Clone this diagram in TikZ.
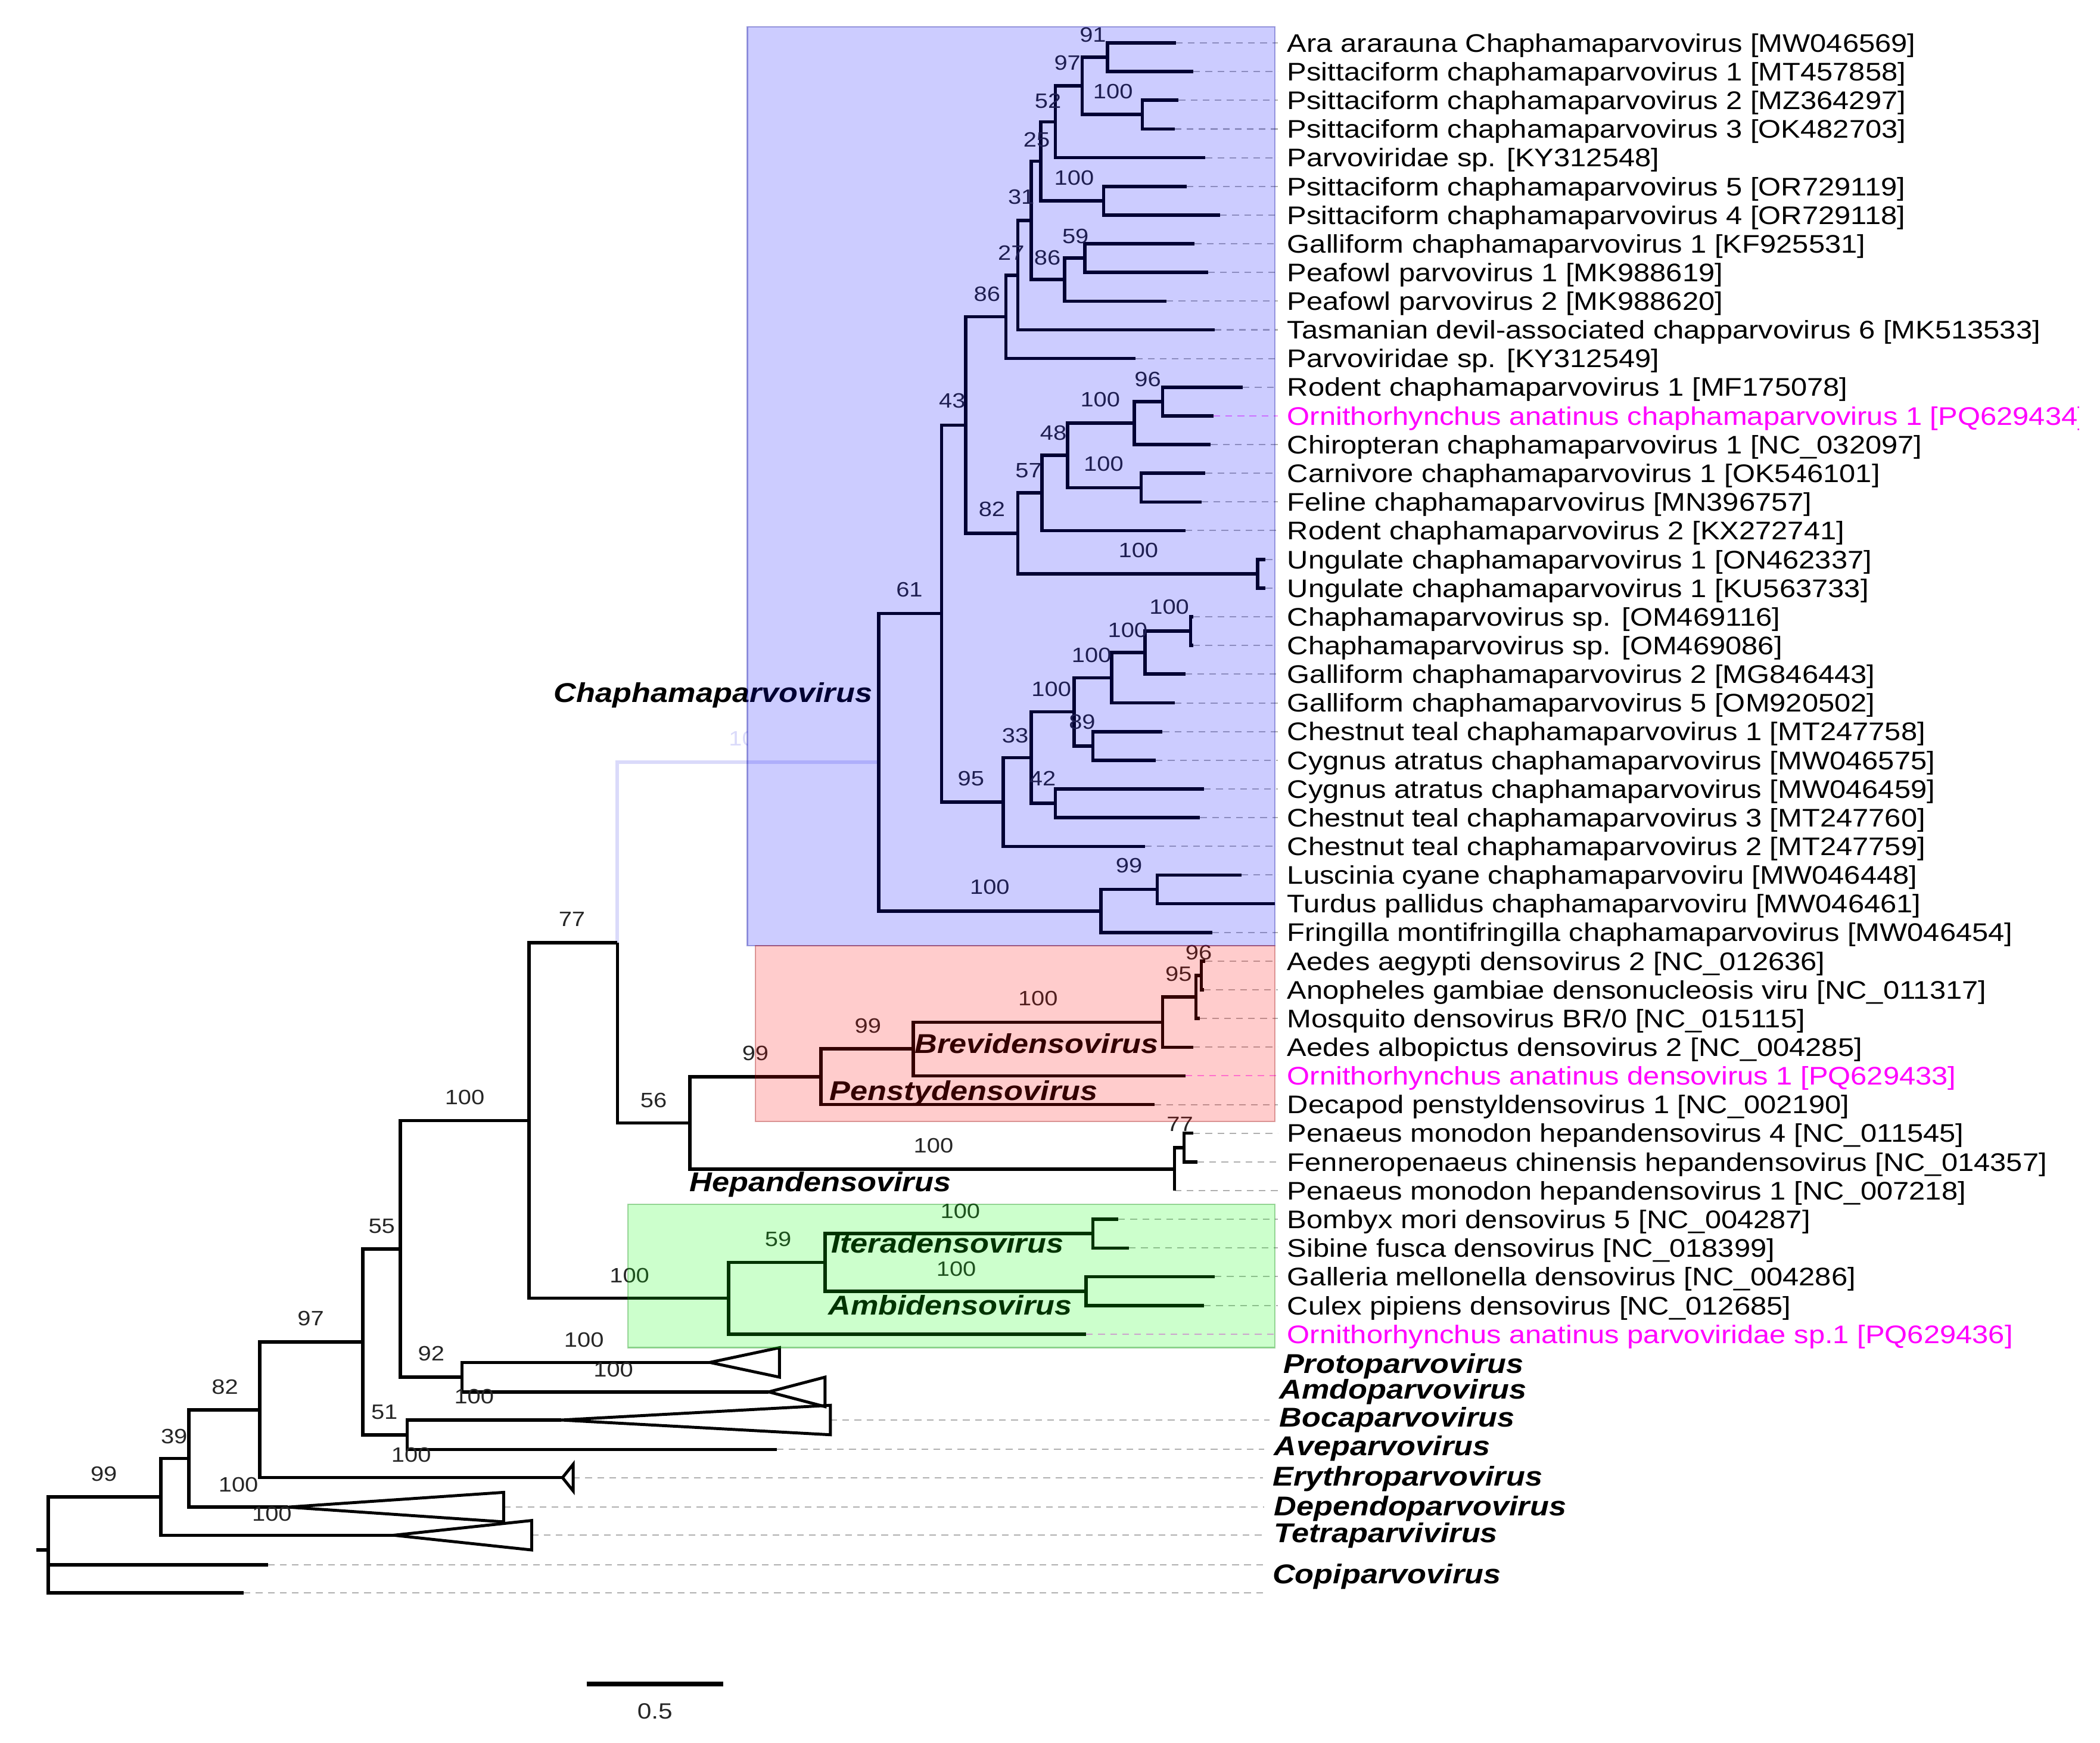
\documentclass[tikz,border=0pt]{standalone}
\usepackage{fontspec}
\setmainfont{Liberation Sans}[FakeStretch=1.145]
\definecolor{mag}{RGB}{255,0,255}
\definecolor{faintblue}{RGB}{218,218,250}
\definecolor{dashgray}{RGB}{175,175,175}
\definecolor{dashmag}{RGB}{255,140,255}
\tikzset{
  br/.style={line width=2.5pt, draw=black},
  tri/.style={line width=2.2pt, draw=black},
  tiplab/.style={font=\fontsize{19}{19}\selectfont, inner sep=0pt, text height=13.6pt, text depth=0pt, anchor=west},
  bs/.style={font=\fontsize{15.5}{15.5}\selectfont, inner sep=0pt, text height=11.1pt, text depth=0pt, text=black!85},
  genus/.style={font=\fontsize{20.3}{20.3}\selectfont\bfseries\itshape, inner sep=0pt, text height=14.6pt, text depth=0pt},
  dsh/.style={draw=dashgray, line width=0.9pt, dash pattern=on 5pt off 4pt, shorten >=7pt},
  dshm/.style={draw=dashmag, line width=0.9pt, dash pattern=on 5pt off 4pt, shorten >=7pt},
  cladebox/.style={fill opacity=0.2, draw opacity=0.35, line width=1pt},
}
\newcommand{\mytip}[4]{\coordinate (t#1) at (#2,#3); \node[tiplab] (L#1) at (961,#3) {#4};}
\newcommand{\mytipm}[4]{\coordinate (t#1) at (#2,#3); \node[tiplab,text=mag] (L#1) at (961,#3) {#4};}
\begin{document}
\begin{tikzpicture}[x=1pt,y=-1pt]
\useasboundingbox (0,0) rectangle (1568,1301);
\begin{scope}
\clip (0,0) rectangle (1552,1301);

% ---------------- tips and labels ----------------
\mytip{1}{878}{32.0}{Ara ararauna Chaphamaparvovirus [MW046569]}
\mytip{2}{891}{53.4}{Psittaciform chaphamaparvovirus 1 [MT457858]}
\mytip{3}{880}{74.8}{Psittaciform chaphamaparvovirus 2 [MZ364297]}
\mytip{4}{877}{96.3}{Psittaciform chaphamaparvovirus 3 [OK482703]}
\mytip{5}{900}{117.7}{Parvoviridae sp. [KY312548]}
\mytip{6}{886}{139.1}{Psittaciform chaphamaparvovirus 5 [OR729119]}
\mytip{7}{911}{160.5}{Psittaciform chaphamaparvovirus 4 [OR729118]}
\mytip{8}{892}{181.9}{Galliform chaphamaparvovirus 1 [KF925531]}
\mytip{9}{902}{203.4}{Peafowl parvovirus 1 [MK988619]}
\mytip{10}{871}{224.8}{Peafowl parvovirus 2 [MK988620]}
\mytip{11}{907}{246.2}{Tasmanian devil-associated chapparvovirus 6 [MK513533]}
\mytip{12}{848}{267.6}{Parvoviridae sp. [KY312549]}
\mytip{13}{928}{289.0}{Rodent chaphamaparvovirus 1 [MF175078]}
\mytipm{14}{906}{310.5}{Ornithorhynchus anatinus chaphamaparvovirus 1 [PQ629434]}
\mytip{15}{904}{331.9}{Chiropteran chaphamaparvovirus 1 [NC\_032097]}
\mytip{16}{900}{353.3}{Carnivore chaphamaparvovirus 1 [OK546101]}
\mytip{17}{897}{374.7}{Feline chaphamaparvovirus [MN396757]}
\mytip{18}{885}{396.1}{Rodent chaphamaparvovirus 2 [KX272741]}
\mytip{19}{945}{417.6}{Ungulate chaphamaparvovirus 1 [ON462337]}
\mytip{20}{945}{439.0}{Ungulate chaphamaparvovirus 1 [KU563733]}
\mytip{21}{891}{460.4}{Chaphamaparvovirus sp. [OM469116]}
\mytip{22}{891}{481.8}{Chaphamaparvovirus sp. [OM469086]}
\mytip{23}{885}{503.2}{Galliform chaphamaparvovirus 2 [MG846443]}
\mytip{24}{877}{524.7}{Galliform chaphamaparvovirus 5 [OM920502]}
\mytip{25}{868}{546.1}{Chestnut teal chaphamaparvovirus 1 [MT247758]}
\mytip{26}{863}{567.5}{Cygnus atratus chaphamaparvovirus [MW046575]}
\mytip{27}{899}{588.9}{Cygnus atratus chaphamaparvovirus [MW046459]}
\mytip{28}{896}{610.3}{Chestnut teal chaphamaparvovirus 3 [MT247760]}
\mytip{29}{855}{631.8}{Chestnut teal chaphamaparvovirus 2 [MT247759]}
\mytip{30}{927}{653.2}{Luscinia cyane chaphamaparvoviru [MW046448]}
\mytip{31}{952}{674.6}{Turdus pallidus chaphamaparvoviru [MW046461]}
\mytip{32}{905}{696.0}{Fringilla montifringilla chaphamaparvovirus [MW046454]}
\mytip{33}{900}{717.4}{Aedes aegypti densovirus 2 [NC\_012636]}
\mytip{34}{899}{738.8}{Anopheles gambiae densonucleosis viru [NC\_011317]}
\mytip{35}{896}{760.3}{Mosquito densovirus BR/0 [NC\_015115]}
\mytip{36}{891}{781.7}{Aedes albopictus densovirus 2 [NC\_004285]}
\mytipm{37}{885}{803.1}{Ornithorhynchus anatinus densovirus 1 [PQ629433]}
\mytip{38}{862}{824.5}{Decapod penstyldensovirus 1 [NC\_002190]}
\mytip{39}{891}{845.9}{Penaeus monodon hepandensovirus 4 [NC\_011545]}
\mytip{40}{894}{867.4}{Fenneropenaeus chinensis hepandensovirus [NC\_014357]}
\mytip{41}{877}{888.8}{Penaeus monodon hepandensovirus 1 [NC\_007218]}
\mytip{42}{835}{910.2}{Bombyx mori densovirus 5 [NC\_004287]}
\mytip{43}{843}{931.6}{Sibine fusca densovirus [NC\_018399]}
\mytip{44}{907}{953.0}{Galleria mellonella densovirus [NC\_004286]}
\mytip{45}{899}{974.5}{Culex pipiens densovirus [NC\_012685]}
\mytipm{46}{811}{995.9}{Ornithorhynchus anatinus parvoviridae sp.1 [PQ629436]}

% genus labels on the right
\node[genus,anchor=west] (G1) at (958,1018) {Protoparvovirus};
\node[genus,anchor=west] (G2) at (955,1037) {Amdoparvovirus};
\node[genus,anchor=west] (G3) at (955,1058) {Bocaparvovirus};
\node[genus,anchor=west] (G4) at (951,1079) {Aveparvovirus};
\node[genus,anchor=west] (G5) at (950,1102) {Erythroparvovirus};
\node[genus,anchor=west] (G6) at (951,1124) {Dependoparvovirus};
\node[genus,anchor=west] (G7) at (951,1144) {Tetraparvivirus};
\node[genus,anchor=west] (G8) at (950,1175) {Copiparvovirus};

% ---------------- internal nodes ----------------
\coordinate (n91) at (827,42.7);
\coordinate (n100a) at (853,85.5);
\coordinate (n97) at (808,64.1);
\coordinate (n52) at (788,90.9);
\coordinate (n100b) at (824,149.8);
\coordinate (n25) at (777,120.4);
\coordinate (n59) at (810,192.6);
\coordinate (n86b) at (795,208.7);
\coordinate (n31) at (770,164.5);
\coordinate (n27) at (760,205.4);
\coordinate (n86) at (751,236.5);
\coordinate (n96) at (868,299.7);
\coordinate (n100c) at (847,315.8);
\coordinate (n100d) at (852,364.0);
\coordinate (n48) at (797,339.9);
\coordinate (n57) at (778,368.0);
\coordinate (n100e) at (939,428.3);
\coordinate (n82) at (760,398.2);
\coordinate (n43) at (721,317.4);
\coordinate (n100i) at (889,471.1);
\coordinate (n100h) at (855,487.2);
\coordinate (n100g) at (830,506.0);
\coordinate (n89) at (816,556.8);
\coordinate (n100f) at (802,531.4);
\coordinate (n42) at (788,599.6);
\coordinate (n33) at (770,565.5);
\coordinate (n95) at (749,598.7);
\coordinate (n61) at (703,458.0);
\coordinate (n99c) at (864,663.9);
\coordinate (n100j) at (822,680.0);
\coordinate (nCh) at (656,569.0);
\coordinate (n96d) at (897,728.1);
\coordinate (n95d) at (893,744.2);
\coordinate (n100br) at (868,763.0);
\coordinate (n99b) at (682,783.0);
\coordinate (n99a) at (613,803.8);
\coordinate (n77h) at (884,856.6);
\coordinate (n100hp) at (877,872.7);
\coordinate (n56) at (515,838.3);
\coordinate (nX) at (461,703.6);
\coordinate (n100it) at (816,920.9);
\coordinate (n100am) at (811,963.8);
\coordinate (n59g) at (616,942.3);
\coordinate (n100gr) at (544,969.1);
\coordinate (nB) at (395,836.4);
\coordinate (aProto) at (530,1017);
\coordinate (aAmdo) at (574,1039);
\coordinate (n92) at (345,1028);
\coordinate (nA) at (299,932.2);
\coordinate (aBoca) at (419,1060);
\coordinate (eAve) at (580,1082);
\coordinate (n100ba) at (304,1071);
\coordinate (n55) at (271,1001.6);
\coordinate (aEry) at (420,1103);
\coordinate (n97b) at (194,1052.3);
\coordinate (aDep) at (215,1125);
\coordinate (n82b) at (141,1088.7);
\coordinate (aTet) at (294,1146);
\coordinate (n39) at (120,1117.3);
\coordinate (eCop1) at (200,1168);
\coordinate (eCop2) at (182,1189);
\coordinate (root) at (36,1157);
\coordinate (rstub) at (27,1157);
\coordinate (bBoca) at (620,1060);
\coordinate (bEry) at (428,1103);
\coordinate (bDep) at (376,1125);
\coordinate (bTet) at (397,1146);

% ---------------- faint stem of Chaphamaparvovirus ----------------
\begin{scope}
\clip (400,530) rectangle (558,575);
\node[bs,text=faintblue] (bF) at (559,551) {100};
\end{scope}
\draw[line width=2.6pt, draw=faintblue] (nX) |- (nCh);

% ---------------- dashed leader lines ----------------
\foreach \i in {1,2,3,4,5,6,7,8,9,10,11,12,13,15,16,17,18,19,20,21,22,23,24,25,26,27,28,29,30,32,33,34,35,36,38,39,40,41,42,43,44,45}
  \draw[dsh] (t\i) -- (t\i -| L\i.west);
\foreach \i in {14,37,46}
  \draw[dshm] (t\i) -- (t\i -| L\i.west);
\draw[dsh] (bBoca) -- (bBoca -| G3.west);
\draw[dsh] (eAve) -- (eAve -| G4.west);
\draw[dsh] (bEry) -- (bEry -| G5.west);
\draw[dsh] (bDep) -- (bDep -| G6.west);
\draw[dsh] (bTet) -- (bTet -| G7.west);
\draw[dsh] (eCop1) -- (eCop1 -| G8.west);
\draw[dsh] (eCop2) -- (eCop2 -| G8.west);

% ---------------- branches ----------------
\draw[br] (n91) |- (t1) (n91) |- (t2);
\draw[br] (n100a) |- (t3) (n100a) |- (t4);
\draw[br] (n97) |- (n91) (n97) |- (n100a);
\draw[br] (n52) |- (n97) (n52) |- (t5);
\draw[br] (n100b) |- (t6) (n100b) |- (t7);
\draw[br] (n25) |- (n52) (n25) |- (n100b);
\draw[br] (n59) |- (t8) (n59) |- (t9);
\draw[br] (n86b) |- (n59) (n86b) |- (t10);
\draw[br] (n31) |- (n25) (n31) |- (n86b);
\draw[br] (n27) |- (n31) (n27) |- (t11);
\draw[br] (n86) |- (n27) (n86) |- (t12);
\draw[br] (n96) |- (t13) (n96) |- (t14);
\draw[br] (n100c) |- (n96) (n100c) |- (t15);
\draw[br] (n100d) |- (t16) (n100d) |- (t17);
\draw[br] (n48) |- (n100c) (n48) |- (n100d);
\draw[br] (n57) |- (n48) (n57) |- (t18);
\draw[br] (n100e) |- (t19) (n100e) |- (t20);
\draw[br] (n82) |- (n57) (n82) |- (n100e);
\draw[br] (n43) |- (n86) (n43) |- (n82);
\draw[br] (n100i) |- (t21) (n100i) |- (t22);
\draw[br] (n100h) |- (n100i) (n100h) |- (t23);
\draw[br] (n100g) |- (n100h) (n100g) |- (t24);
\draw[br] (n89) |- (t25) (n89) |- (t26);
\draw[br] (n100f) |- (n100g) (n100f) |- (n89);
\draw[br] (n42) |- (t27) (n42) |- (t28);
\draw[br] (n33) |- (n100f) (n33) |- (n42);
\draw[br] (n95) |- (n33) (n95) |- (t29);
\draw[br] (n61) |- (n43) (n61) |- (n95);
\draw[br] (n99c) |- (t30) (n99c) |- (t31);
\draw[br] (n100j) |- (n99c) (n100j) |- (t32);
\draw[br] (nCh) |- (n61) (nCh) |- (n100j);
\draw[br] (n96d) |- (t33) (n96d) |- (t34);
\draw[br] (n95d) |- (n96d) (n95d) |- (t35);
\draw[br] (n100br) |- (n95d) (n100br) |- (t36);
\draw[br] (n99b) |- (n100br) (n99b) |- (t37);
\draw[br] (n99a) |- (n99b) (n99a) |- (t38);
\draw[br] (n77h) |- (t39) (n77h) |- (t40);
\draw[br] (n100hp) |- (n77h) (n100hp) |- (t41);
\draw[br] (n56) |- (n99a) (n56) |- (n100hp);
\draw[br] (nX) |- (n56);
\draw[br] (n100it) |- (t42) (n100it) |- (t43);
\draw[br] (n100am) |- (t44) (n100am) |- (t45);
\draw[br] (n59g) |- (n100it) (n59g) |- (n100am);
\draw[br] (n100gr) |- (n59g) (n100gr) |- (t46);
\draw[br] (nB) |- (nX) (nB) |- (n100gr);
\draw[br] (n92) |- (aProto) (n92) |- (aAmdo);
\draw[br] (nA) |- (nB) (nA) |- (n92);
\draw[br] (n100ba) |- (aBoca) (n100ba) |- (eAve);
\draw[br] (n55) |- (nA) (n55) |- (n100ba);
\draw[br] (n97b) |- (n55) (n97b) |- (aEry);
\draw[br] (n82b) |- (n97b) (n82b) |- (aDep);
\draw[br] (n39) |- (n82b) (n39) |- (aTet);
\draw[br] (root) |- (n39) (root) |- (eCop1) (root) |- (eCop2);
\draw[br] (rstub) -- (root);

% collapsed clades
\draw[tri] (aProto) -- (582,1006) -- (582,1028) -- cycle;
\draw[tri] (aAmdo) -- (616,1028) -- (616,1050) -- cycle;
\draw[tri] (aBoca) -- (620,1049) -- (620,1071) -- cycle;
\draw[tri] (aEry) -- (428,1093) -- (428,1113) -- cycle;
\draw[tri] (aDep) -- (376,1114) -- (376,1136) -- cycle;
\draw[tri] (aTet) -- (397,1135) -- (397,1157) -- cycle;

% ---------------- bootstrap values ----------------
\node[bs] (b1) at (816,25.7) {91};
\node[bs] (b2) at (797,46.7) {97};
\node[bs] (b3) at (831,68) {100};
\node[bs] (b4) at (782.5,75) {52};
\node[bs] (b5) at (774,104) {25};
\node[bs] (b6) at (802,132.5) {100};
\node[bs] (b7) at (762.5,147) {31};
\node[bs] (b8) at (803,176) {59};
\node[bs] (b9) at (755,188.6) {27};
\node[bs] (b10) at (782,192) {86};
\node[bs] (b11) at (737,219.5) {86};
\node[bs] (b12) at (857,283) {96};
\node[bs] (b13) at (821.5,298) {100};
\node[bs] (b14) at (711,299) {43};
\node[bs] (b15) at (786.5,323) {48};
\node[bs] (b16) at (768,351) {57};
\node[bs] (b17) at (824,346) {100};
\node[bs] (b18) at (740.6,380) {82};
\node[bs] (b19) at (850,410.5) {100};
\node[bs] (b20) at (679,440) {61};
\node[bs] (b21) at (873,453) {100};
\node[bs] (b22) at (842,470) {100};
\node[bs] (b23) at (815,489) {100};
\node[bs] (b24) at (785,514) {100};
\node[bs] (b25) at (808,538.7) {89};
\node[bs] (b26) at (758,549) {33};
\node[bs] (b27) at (778.5,581) {42};
\node[bs] (b28) at (725,581) {95};
\node[bs] (b29) at (843,646) {99};
\node[bs] (b30) at (739,662) {100};
\node[bs] (b31) at (895,711) {96};
\node[bs] (b32) at (880,727) {95};
\node[bs] (b33) at (775,745) {100};
\node[bs] (b34) at (648,765.6) {99};
\node[bs] (b35) at (564,786) {99};
\node[bs] (b36) at (881,839) {77};
\node[bs] (b37) at (697,855) {100};
\node[bs] (b38) at (488,821) {56};
\node[bs] (b39) at (427,686) {77};
\node[bs] (b40) at (347,819) {100};
\node[bs] (b41) at (717,904) {100};
\node[bs] (b42) at (581,925) {59};
\node[bs] (b43) at (714,947) {100};
\node[bs] (b44) at (470,952) {100};
\node[bs] (b45) at (285,915) {55};
\node[bs] (b46) at (232,984) {97};
\node[bs] (b47) at (436,1000) {100};
\node[bs] (b48) at (322,1010) {92};
\node[bs] (b49) at (458,1022) {100};
\node[bs] (b50) at (168,1035) {82};
\node[bs] (b51) at (354,1042) {100};
\node[bs] (b52) at (287,1054) {51};
\node[bs] (b53) at (130,1072) {39};
\node[bs] (b54) at (307,1086) {100};
\node[bs] (b55) at (77.5,1100) {99};
\node[bs] (b56) at (178,1108) {100};
\node[bs] (b57) at (203,1130) {100};

% genus labels inside the tree
\node[genus] (gCh) at (532.5,517) {Chaphamaparvovirus};
\node[genus] (gBr) at (774,779) {Brevidensovirus};
\node[genus] (gPe) at (719.5,814) {Penstydensovirus};
\node[genus] (gHe) at (612.5,882) {Hepandensovirus};
\node[genus] (gIt) at (707.5,928) {Iteradensovirus};
\node[genus] (gAm) at (709.5,974) {Ambidensovirus};

% ---------------- clade boxes (translucent overlays) ----------------
\draw[cladebox, fill=blue, draw=blue!60!black] (558,20) rectangle (952,706);
\draw[cladebox, fill=red, draw=red!60!black] (564,706) rectangle (952,837);
\draw[cladebox, fill=green, draw=green!50!black] (469,899) rectangle (952,1006);

% ---------------- scale bar ----------------
\coordinate (sb1) at (438,1257);
\coordinate (sb2) at (540,1257);
\draw[line width=3.5pt] (sb1) -- (sb2);
\node[bs, font=\fontsize{16.5}{16.5}\selectfont, text height=11.8pt] (sbl) at (489,1277) {0.5};
\end{scope}
\end{tikzpicture}
\end{document}
